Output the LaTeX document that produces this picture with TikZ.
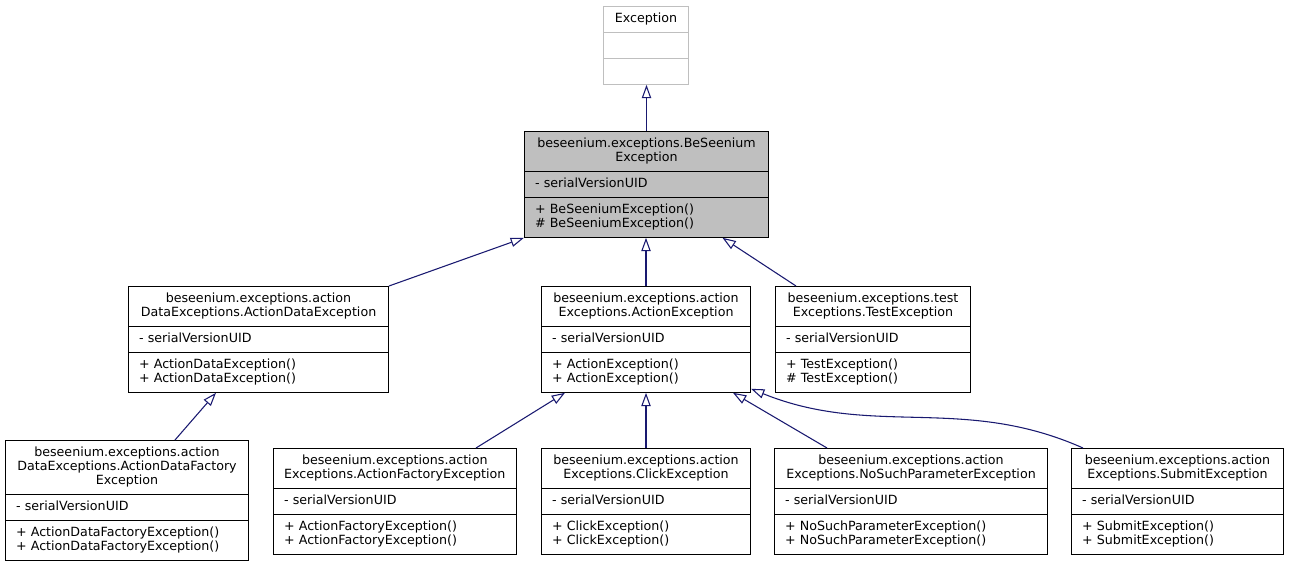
\documentclass[tikz,border=0pt]{standalone}
\usepackage{fontspec}
\setmainfont{DejaVu Sans}
\usepackage{tikz}
\usetikzlibrary{arrows.meta,positioning,shapes,calc}
\definecolor{inhcol}{RGB}{25,25,112}
\definecolor{hdr}{RGB}{191,191,191}
\newcommand{\ctitle}[1]{\begin{tabular}{@{}c@{}}#1\end{tabular}}
\newcommand{\mlist}[1]{\begin{tabular}{@{}l@{}}#1\end{tabular}}

\begin{document}
\begin{tikzpicture}[x=0.75pt, y=0.75pt,
  cls/.style={draw, line width=0.75pt, anchor=north west, rectangle split, rectangle split parts=3,
    rectangle split part align={center,left,left}, rectangle split ignore empty parts=false,
    inner xsep=8pt, inner ysep=4.1pt, font=\fontsize{9.5}{10.5}\selectfont},
  inh/.style={-{Triangle[open, length=10pt, width=7pt]}, draw=inhcol, line width=0.8pt},
]
\useasboundingbox (0,0) rectangle (1289,-567);

\node[cls, draw=hdr, minimum width=63.75pt] (exc) at (603,-6) {\ctitle{Exception}
  \nodepart{two}\strut \nodepart{three}\strut};
\node[cls, fill=hdr, minimum width=183pt] (besee) at (524,-131) {\ctitle{beseenium.exceptions.BeSeenium\\Exception}
  \nodepart{two}\mlist{- serialVersionUID}
  \nodepart{three}\mlist{+ BeSeeniumException()\\\# BeSeeniumException()}};

% second row
\node[cls, minimum width=195pt] (adata) at (128,-286) {\ctitle{beseenium.exceptions.action\\DataExceptions.ActionDataException}
  \nodepart{two}\mlist{- serialVersionUID}
  \nodepart{three}\mlist{+ ActionDataException()\\+ ActionDataException()}};
\node[cls, minimum width=156.75pt] (aexc) at (541,-286) {\ctitle{beseenium.exceptions.action\\Exceptions.ActionException}
  \nodepart{two}\mlist{- serialVersionUID}
  \nodepart{three}\mlist{+ ActionException()\\+ ActionException()}};
\node[cls, minimum width=146.25pt] (test) at (775,-286) {\ctitle{beseenium.exceptions.test\\Exceptions.TestException}
  \nodepart{two}\mlist{- serialVersionUID}
  \nodepart{three}\mlist{+ TestException()\\\# TestException()}};

% third row
\node[cls, minimum width=182.25pt] (adfact) at (5,-440) {\ctitle{beseenium.exceptions.action\\DataExceptions.ActionDataFactory\\Exception}
  \nodepart{two}\mlist{- serialVersionUID}
  \nodepart{three}\mlist{+ ActionDataFactoryException()\\+ ActionDataFactoryException()}};
\node[cls, minimum width=174pt] (afact) at (273,-448) {\ctitle{beseenium.exceptions.action\\Exceptions.ActionFactoryException}
  \nodepart{two}\mlist{- serialVersionUID}
  \nodepart{three}\mlist{+ ActionFactoryException()\\+ ActionFactoryException()}};
\node[cls, minimum width=156.75pt] (click) at (541,-448) {\ctitle{beseenium.exceptions.action\\Exceptions.ClickException}
  \nodepart{two}\mlist{- serialVersionUID}
  \nodepart{three}\mlist{+ ClickException()\\+ ClickException()}};
\node[cls, minimum width=204.75pt] (nosuch) at (774,-448) {\ctitle{beseenium.exceptions.action\\Exceptions.NoSuchParameterException}
  \nodepart{two}\mlist{- serialVersionUID}
  \nodepart{three}\mlist{+ NoSuchParameterException()\\+ NoSuchParameterException()}};
\node[cls, minimum width=159pt] (submit) at (1071,-448) {\ctitle{beseenium.exceptions.action\\Exceptions.SubmitException}
  \nodepart{two}\mlist{- serialVersionUID}
  \nodepart{three}\mlist{+ SubmitException()\\+ SubmitException()}};

% inheritance
\draw[inh] (besee.north) -- (besee.north |- exc.south);
\draw[inh] (adata.north east) -- (besee.south west);
\draw[inh] (aexc.north) -- (aexc.north |- besee.south);
\draw[inh] ($(test.north west)+(21,0)$) -- ($(besee.south)+(76,0)$);
\draw[inh] ($(adfact.north west)+(170,0)$) -- ($(adata.south west)+(88,0)$);
\draw[inh] ($(afact.north west)+(203,0)$) -- ($(aexc.south west)+(24,0)$);
\draw[inh] (click.north) -- (click.north |- aexc.south);
\draw[inh] ($(nosuch.north west)+(53,0)$) -- ($(aexc.south west)+(192,0)$);
\draw[inh] ($(submit.north west)+(12,0)$) to[out=156, in=-22] ($(aexc.south east)+(0,4)$);
\end{tikzpicture}
\end{document}
